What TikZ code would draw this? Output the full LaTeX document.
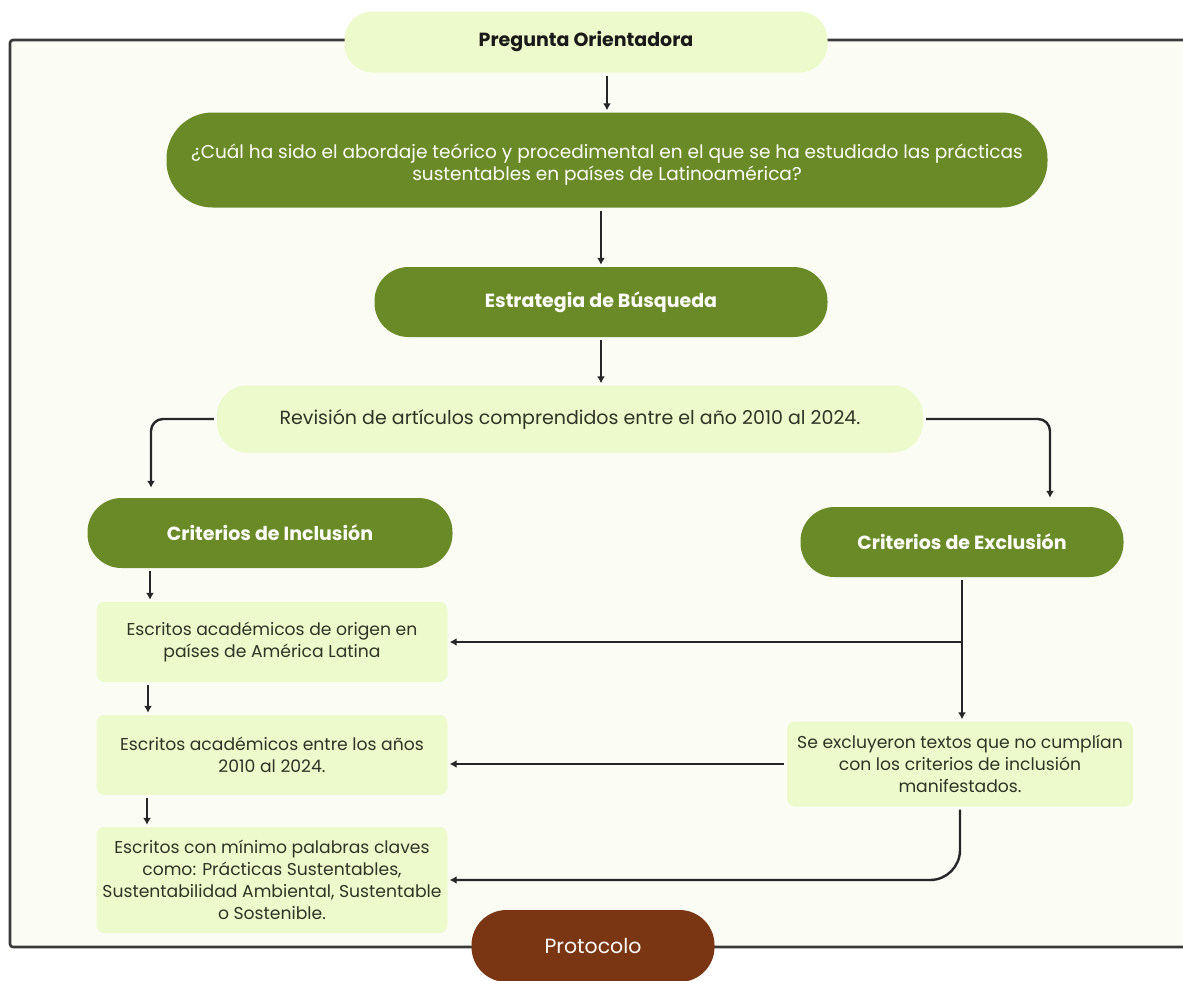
\documentclass[tikz,border=0pt]{standalone}
\usepackage{fontspec}
\setmainfont{Poppins}
\usepackage{xcolor}
\usetikzlibrary{positioning,calc,arrows.meta}

\definecolor{darkgreen}{HTML}{6A8A27}
\definecolor{lightgreen}{HTML}{EDFACB}
\definecolor{protobrown}{HTML}{7A3613}
\definecolor{paper}{HTML}{FBFDF5}
\definecolor{ink}{HTML}{2E3526}
\definecolor{framegray}{HTML}{3A3A3A}

\tikzset{
  dark/.style={fill=darkgreen, text=white!94!lightgreen, rounded corners=34, align=center, inner sep=0pt, font=\fontsize{19}{22}\selectfont\bfseries},
  light/.style={fill=lightgreen, text=ink, rounded corners=8, align=center, inner sep=0pt, font=\fontsize{17.2}{22}\selectfont},
  link/.style={line width=2.4pt, draw=black!85, shorten <=3pt, shorten >=2pt, -{Latex[length=7pt,width=8pt]}},
}

\begin{document}
\begin{tikzpicture}[x=1pt,y=-1pt]
    \clip (0,0) rectangle (1183,980);
    \fill[white] (0,0) rectangle (1183,980);

    % Frame
    \draw[fill=paper, line width=2.6pt, draw=framegray, rounded corners=3] (10,40) rectangle (1200,947);

    % Question
    \node[light, rounded corners=28, minimum width=483, minimum height=61, text=black!90, font=\fontsize{19}{22}\selectfont\bfseries] (preg) at (586,42) {Pregunta Orientadora};
    \node[dark, rounded corners=46, minimum width=881, minimum height=95, font=\fontsize{18.5}{22}\selectfont] (quest) at (607,160) {\rule{0pt}{24pt}¿Cuál ha sido el abordaje teórico y procedimental en el que se ha estudiado las prácticas\\sustentables en países de Latinoamérica?};

    % Search
    \node[dark, minimum width=453, minimum height=70] (estr) at (601,302) {Estrategia de Búsqueda};
    \node[light, rounded corners=30, minimum width=706, minimum height=67, font=\fontsize{19}{22}\selectfont] (rev) at (570,419) {Revisión de artículos comprendidos entre el año 2010 al 2024.};

    % Criteria
    \node[dark, minimum width=365, minimum height=70] (incl) at (270,533) {Criterios de Inclusión};
    \node[dark, minimum width=323, minimum height=70] (excl) at (962,542) {Criterios de Exclusión};

    % Inclusion list
    \node[light, minimum width=351, minimum height=80] (esc1) at (272,642) {Escritos académicos de origen en\\países de América Latina};
    \node[light, minimum width=351, minimum height=80] (esc2) at (272,755) {Escritos académicos entre los años\\2010 al 2024.};
    \node[light, minimum width=351, minimum height=106] (esc3) at (272,880) {Escritos con mínimo palabras claves\\como: Prácticas Sustentables,\\Sustentabilidad Ambiental, Sustentable\\o Sostenible.};

    % Exclusion
    \node[light, minimum width=346, minimum height=85] (excl1) at (960,764) {Se excluyeron textos que no cumplían\\con los criterios de inclusión\\manifestados.};

    % Protocol
    \node[dark, fill=protobrown, rounded corners=35, minimum width=243, minimum height=72, font=\fontsize{20.5}{24}\selectfont] (proto) at (593,946) {Protocolo};

    % Arrows
    \draw[link] (preg.south -| quest.north) -- (quest.north);
    \draw[link] (quest.south -| estr.north) -- (estr.north);
    \draw[link] (estr.south) -- (rev.north -| estr.south);
    \draw[link, rounded corners=12] (rev.west) -| ([xshift=-119pt, yshift=8pt]incl.north);
    \draw[link, rounded corners=12] (rev.east) -| ([xshift=88pt, yshift=7pt]excl.north);
    \draw[link] ([xshift=-120pt]incl.south) -- ([xshift=-120pt]incl.south |- esc1.north);
    \draw[link] ([xshift=-124pt]esc1.south) -- ([xshift=-124pt]esc2.north);
    \draw[link] ([xshift=-125pt]esc2.south) -- ([xshift=-125pt]esc3.north);
    \draw[link] (excl.south) -- (excl.south |- excl1.north);
    \coordinate (branch) at (excl.south |- esc1.east);
    \draw[link, shorten <=0pt] (branch) -- (esc1.east);
    \draw[link] (excl1.west) -- (excl1.west -| esc2.east);
    \draw[link, rounded corners=30] (excl1.south) |- (esc3.east);

\end{tikzpicture}
\end{document}
